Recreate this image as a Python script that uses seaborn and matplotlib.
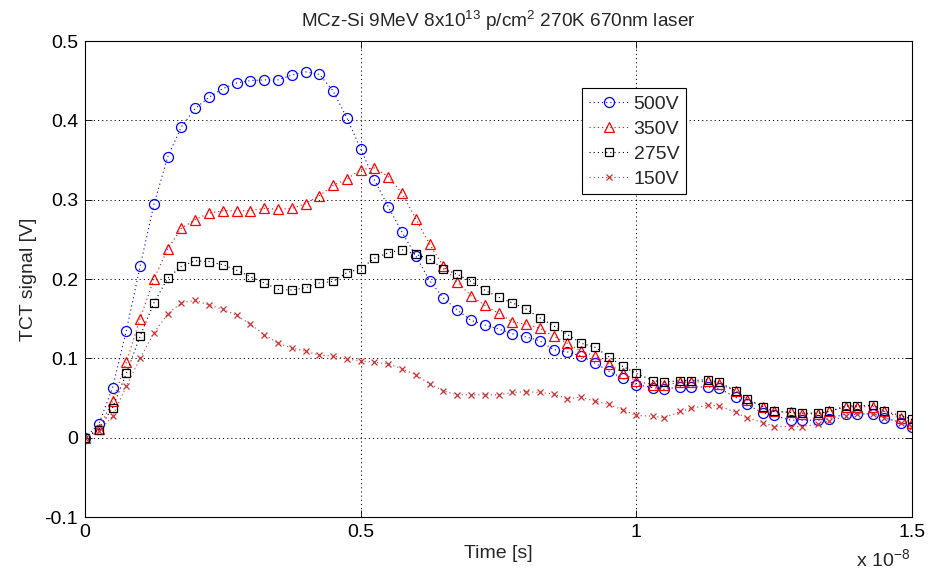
import matplotlib
matplotlib.use("Agg")
import matplotlib.pyplot as plt
import numpy as np
import pandas as pd
import seaborn as sns

# Sample times in ns (stored with 3 significant figures)
t_ns = [0, 0.25, 0.5, 0.75, 1.0, 1.25, 1.5, 1.75, 2.0, 2.25,
        2.5, 2.75, 3.0, 3.25, 3.5, 3.75, 4.0, 4.25, 4.5, 4.75,
        5.0, 5.25, 5.5, 5.75, 6.0, 6.25, 6.5, 6.75, 7.0, 7.25,
        7.5, 7.75, 8.0, 8.25, 8.5, 8.75, 9.0, 9.25, 9.5, 9.75,
        10.0, 10.3, 10.5, 10.8, 11.0, 11.3, 11.5, 11.8, 12.0, 12.3,
        12.5, 12.8, 13.0, 13.3, 13.5, 13.8, 14.0, 14.3, 14.5, 14.8, 15.0]

sig_500 = [0, 0.017, 0.063, 0.135, 0.216, 0.294, 0.354, 0.392, 0.415, 0.429,
           0.440, 0.447, 0.450, 0.451, 0.451, 0.457, 0.461, 0.458, 0.437, 0.403,
           0.364, 0.325, 0.291, 0.259, 0.229, 0.198, 0.176, 0.161, 0.148, 0.142,
           0.137, 0.131, 0.127, 0.122, 0.111, 0.108, 0.103, 0.094, 0.084, 0.075,
           0.067, 0.063, 0.061, 0.064, 0.064, 0.064, 0.062, 0.051, 0.042, 0.031,
           0.028, 0.022, 0.022, 0.022, 0.024, 0.030, 0.030, 0.030, 0.025, 0.019, 0.014]

sig_350 = [0, 0.011, 0.046, 0.095, 0.150, 0.200, 0.238, 0.264, 0.275, 0.283,
           0.286, 0.286, 0.286, 0.289, 0.288, 0.289, 0.295, 0.305, 0.318, 0.326,
           0.338, 0.340, 0.329, 0.308, 0.276, 0.244, 0.216, 0.196, 0.179, 0.167,
           0.157, 0.146, 0.143, 0.138, 0.128, 0.119, 0.109, 0.103, 0.093, 0.082,
           0.071, 0.067, 0.066, 0.070, 0.070, 0.071, 0.068, 0.059, 0.048, 0.039,
           0.033, 0.032, 0.030, 0.030, 0.033, 0.039, 0.039, 0.039, 0.033, 0.025, 0.019]

sig_275 = [0, 0.010, 0.038, 0.081, 0.128, 0.170, 0.201, 0.216, 0.223, 0.222,
           0.218, 0.211, 0.203, 0.195, 0.187, 0.186, 0.189, 0.195, 0.197, 0.208,
           0.213, 0.226, 0.233, 0.237, 0.231, 0.225, 0.213, 0.206, 0.197, 0.186,
           0.177, 0.170, 0.162, 0.151, 0.141, 0.130, 0.119, 0.114, 0.102, 0.090,
           0.081, 0.072, 0.070, 0.072, 0.072, 0.073, 0.070, 0.059, 0.049, 0.039,
           0.033, 0.032, 0.031, 0.031, 0.033, 0.040, 0.040, 0.041, 0.033, 0.028, 0.023]

sig_150 = [0, 0.008, 0.027, 0.065, 0.100, 0.132, 0.156, 0.170, 0.173, 0.167,
           0.162, 0.154, 0.143, 0.130, 0.119, 0.113, 0.109, 0.104, 0.103, 0.099,
           0.097, 0.095, 0.093, 0.087, 0.079, 0.068, 0.059, 0.054, 0.054, 0.054,
           0.054, 0.057, 0.058, 0.057, 0.055, 0.049, 0.051, 0.046, 0.042, 0.035,
           0.028, 0.027, 0.025, 0.033, 0.037, 0.041, 0.040, 0.032, 0.025, 0.019,
           0.014, 0.014, 0.014, 0.017, 0.021, 0.027, 0.030, 0.030, 0.025, 0.019, 0.013]

labels = ["500V", "350V", "275V", "150V"]
x_ticks = [0, 0.5e-8, 1.0e-8, 1.5e-8]
x_tick_labels = ["0", "0.5", "1", "1.5"]
y_ticks = [-0.1, 0, 0.1, 0.2, 0.3, 0.4, 0.5]
y_tick_labels = ["-0.1", "0", "0.1", "0.2", "0.3", "0.4", "0.5"]

sns.set_style("ticks")
plt.rcParams.update({
    "font.family": ["Liberation Sans", "DejaVu Sans"],
    "mathtext.fontset": "custom",
    "mathtext.rm": "Liberation Sans",
    "mathtext.default": "regular",
    "lines.scale_dashes": False,
    "lines.dotted_pattern": [0.8, 2.2],
    "axes.edgecolor": "black",
    "axes.linewidth": 0.8,
})

t_sec = np.array(t_ns) * 1e-9
series = {
    "500V": (sig_500, "#0000ff", "o", 7.2),
    "350V": (sig_350, "#ff0000", "^", 7.5),
    "275V": (sig_275, "#000000", "s", 6.0),
    "150V": (sig_150, "#cc3333", "x", 4.0),
}

FS = 14

fig = plt.figure(figsize=(9.4, 5.73), dpi=100)
ax = fig.add_axes([85 / 940, 1 - 517 / 573, 827 / 940, 476 / 573])

for name in labels:
    vals, col, mk, ms = series[name]
    df = pd.DataFrame({"time": t_sec, "signal": vals})
    sns.lineplot(data=df, x="time", y="signal", ax=ax, color=col,
                 linestyle=":", linewidth=0.8, marker=mk, markersize=ms,
                 markerfacecolor="none", markeredgecolor=col,
                 markeredgewidth=0.9, label=name, sort=False,
                 estimator=None)

ax.set_xlim(0, 1.5e-8)
ax.set_ylim(-0.1, 0.5)
ax.set_xticks(x_ticks)
ax.set_xticklabels(x_tick_labels)
ax.set_yticks(y_ticks)
ax.set_yticklabels(y_tick_labels)
ax.tick_params(direction="in", length=5, width=0.6, labelsize=FS,
               top=True, right=True, pad=5, colors="black")
ax.grid(True, linestyle=":", color="black", linewidth=0.7)

ax.set_xlabel("Time [s]", fontsize=FS, labelpad=3)
ax.set_ylabel("TCT signal [V]", fontsize=FS, labelpad=5)
ax.set_title(r"MCz-Si 9MeV 8x10$^{13}$ p/cm$^{2}$ 270K 670nm laser",
             fontsize=13.7, pad=10)

fig.text(910 / 940, 1 - 566 / 573, r"x 10$^{-8}$", ha="right",
         va="baseline", fontsize=FS)

leg = ax.legend(loc="upper left", bbox_to_anchor=(0.601, 0.901),
                borderaxespad=0, fancybox=False, framealpha=1,
                edgecolor="black", fontsize=FS, handlelength=2.1,
                labelspacing=0.38, borderpad=0.35, handletextpad=0.2)
leg.get_frame().set_linewidth(0.8)

fig.savefig("out.png", dpi=100)
